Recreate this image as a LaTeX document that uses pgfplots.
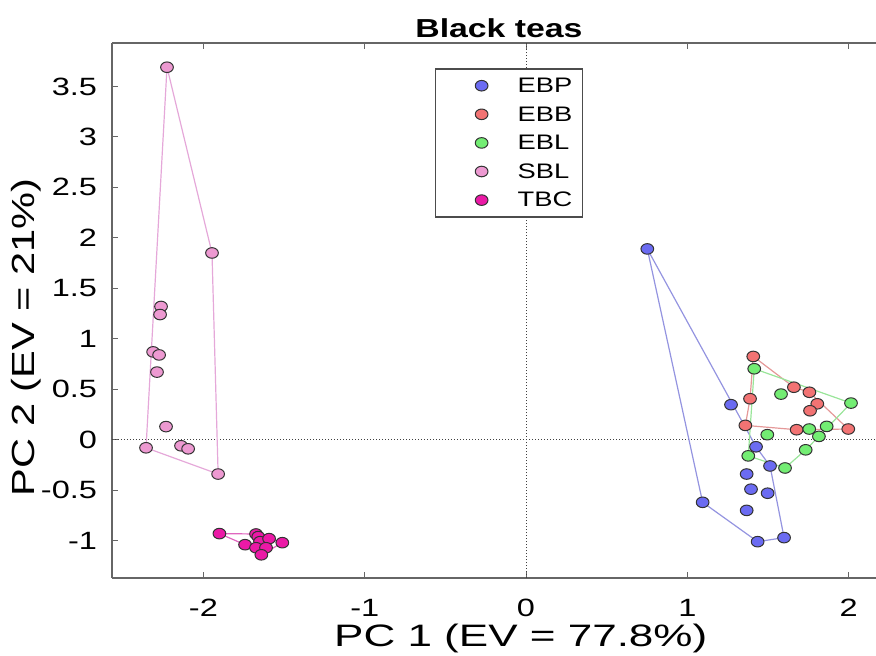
\documentclass[border=0pt]{standalone}
\usepackage{pgfplots}
\pgfplotsset{compat=1.18}
\usepackage{fontspec}
\setmainfont{Liberation Sans}[FakeStretch=1.3]
\newfontfamily\widefont{Liberation Sans}[FakeStretch=1.42]
\definecolor{cEBP}{rgb}{0.42,0.42,0.95}
\definecolor{cEBB}{rgb}{0.95,0.45,0.45}
\definecolor{cEBL}{rgb}{0.45,0.93,0.45}
\definecolor{cSBL}{rgb}{0.93,0.60,0.82}
\definecolor{cTBC}{rgb}{0.92,0.10,0.65}
\definecolor{lEBP}{rgb}{0.58,0.58,0.88}
\definecolor{lEBB}{rgb}{0.90,0.60,0.60}
\definecolor{lEBL}{rgb}{0.60,0.90,0.60}
\definecolor{lSBL}{rgb}{0.90,0.66,0.85}
\definecolor{lTBC}{rgb}{0.88,0.40,0.75}
\begin{document}
\begin{tikzpicture}
\begin{axis}[
  scale only axis,
  width=382pt, height=267.5pt,
  xmin=-2.567, xmax=2.17, ymin=-1.37, ymax=3.93,
  axis x line*=box, axis y line*=left,
  axis line style={-, draw=black!60, line width=0.6pt},
  tick align=inside,
  major tick length=3pt,
  tick style={draw=black!60, line width=0.5pt},
  xtick={-2,-1,0,1,2}, xticklabels={-2,-1,0,1,2},
  ytick={-1,-0.5,0,0.5,1,1.5,2,2.5,3,3.5},
  yticklabels={-1,-0.5,0,0.5,1,1.5,2,2.5,3,3.5},
  /pgf/number format/assume math mode=true,
  ticklabel style={font=\fontsize{12.5}{13}\selectfont},
  xticklabel style={yshift=-7pt},
  yticklabel style={xshift=-4pt},
  xlabel={PC 1 (EV = 77.8\%)},
  ylabel={PC 2 (EV = 21\%)},
  xlabel style={at={(rel axis cs:0.535,0)}, anchor=base, yshift=-34pt, font=\widefont\fontsize{15.5}{16}\selectfont},
  ylabel style={at={(rel axis cs:-0.112,0.45)}, anchor=center, font=\fontsize{16}{17}\selectfont},
  title={Black teas},
  title style={at={(rel axis cs:0.5065,1)}, anchor=base, yshift=-3pt, font=\bfseries\fontsize{13}{14}\selectfont},
  legend style={at={(rel axis cs:0.4228,0.9527)}, anchor=north west,
    draw=black!70, line width=0.6pt, fill=white,
    inner xsep=3pt, inner ysep=3pt, row sep=3.5pt,
    nodes={inner sep=2pt, text height=6.8pt, text depth=0pt, font=\fontsize{10.5}{11}\selectfont}},
  legend cell align=left,
  legend image code/.code={\path[draw=none, fill=none] (0pt,0pt) -- (36pt,0pt);
    \path[#1, only marks] plot coordinates {(20pt,0pt)};},
  every axis plot/.append style={mark size=2.65pt},
  myscat/.style={only marks, mark=*, mark options={draw=black!80, line width=0.5pt, xscale=1.2}},
]
\coordinate (SW) at (rel axis cs:0,0);
\coordinate (NE) at (rel axis cs:1,1);
% reference lines
\addplot[densely dotted, black!75, line width=0.5pt, forget plot] coordinates {(0,-1.37) (0,3.93)};
\addplot[densely dotted, black!75, line width=0.5pt, forget plot] coordinates {(-2.567,0) (2.17,0)};
% hulls
\addplot[lEBP, line width=0.6pt, forget plot] coordinates {(0.752,1.89) (1.426,-0.07) (1.513,-0.26) (1.600,-0.97) (1.436,-1.01) (1.095,-0.62) (0.752,1.89)};
\addplot[lEBB, line width=0.6pt, forget plot] coordinates {(1.409,0.825) (1.661,0.52) (1.757,0.47) (1.998,0.106) (1.678,0.099) (1.360,0.142) (1.389,0.406) (1.409,0.825)};
\addplot[lEBL, line width=0.6pt, forget plot] coordinates {(1.415,0.703) (2.015,0.363) (1.816,0.033) (1.734,-0.10) (1.606,-0.28) (1.378,-0.16) (1.415,0.703)};
\addplot[lSBL, line width=0.6pt, forget plot] coordinates {(-2.226,3.69) (-1.947,1.85) (-1.909,-0.34) (-2.356,-0.08) (-2.226,3.69)};
\addplot[lTBC, line width=0.6pt, forget plot] coordinates {(-1.901,-0.93) (-1.674,-0.934) (-1.593,-0.98) (-1.511,-1.02) (-1.641,-1.14) (-1.742,-1.04) (-1.901,-0.93)};
% points
\addplot[myscat, fill=cEBP] table {
x y
0.752 1.89
1.271 0.347
1.426 -0.07
1.513 -0.26
1.368 -0.34
1.395 -0.49
1.498 -0.53
1.368 -0.70
1.095 -0.62
1.436 -1.01
1.600 -0.97
};
\addlegendentry{EBP}
\addplot[myscat, fill=cEBB] table {
x y
1.409 0.825
1.389 0.406
1.360 0.142
1.661 0.52
1.757 0.47
1.806 0.356
1.761 0.287
1.678 0.099
1.998 0.106
};
\addlegendentry{EBB}
\addplot[myscat, fill=cEBL] table {
x y
1.415 0.703
1.581 0.452
1.496 0.05
1.756 0.106
1.864 0.132
1.816 0.033
2.015 0.363
1.734 -0.10
1.378 -0.16
1.606 -0.28
};
\addlegendentry{EBL}
\addplot[myscat, fill=cSBL] table {
x y
-2.226 3.69
-1.947 1.85
-2.263 1.32
-2.269 1.24
-2.312 0.87
-2.275 0.84
-2.288 0.67
-2.232 0.13
-2.356 -0.08
-2.139 -0.06
-2.095 -0.09
-1.909 -0.34
};
\addlegendentry{SBL}
\addplot[myscat, fill=cTBC] table {
x y
-1.901 -0.93
-1.674 -0.934
-1.660 -0.96
-1.742 -1.04
-1.649 -1.01
-1.593 -0.98
-1.511 -1.02
-1.674 -1.07
-1.612 -1.07
-1.641 -1.14
};
\addlegendentry{TBC}
\end{axis}
\pgfresetboundingbox
\path (SW) ++(-56pt,-38.5pt) coordinate (BL);
\path (NE) ++(0pt,21.5pt) coordinate (TR);
\path (BL) rectangle (TR);
\end{tikzpicture}
\end{document}
